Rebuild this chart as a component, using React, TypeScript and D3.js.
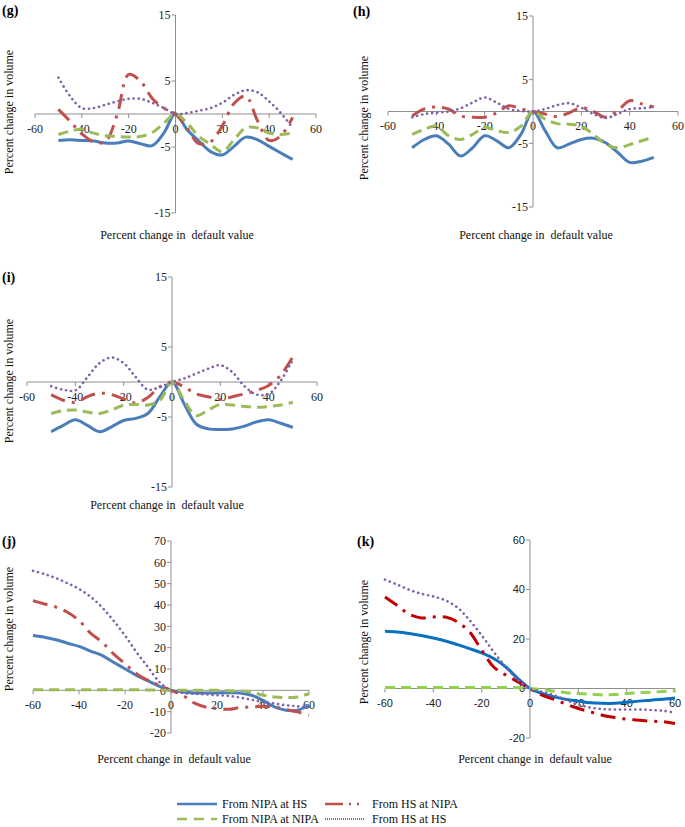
import React from 'react';
import * as d3 from 'd3';

// ---------- data ----------
const xTickValues = [-60, -40, -20, 0, 20, 40, 60];
const yTicksSmall = [-15, -5, 5, 15];
const yTicksJ = [-20, -10, 0, 10, 20, 30, 40, 50, 60, 70];
const yTicksK = [-20, 0, 20, 40, 60];

const xShort = [-50, -45, -40, -35, -30, -25, -20, -15, -10, -5, 0, 5, 10, 15, 20, 25, 30, 35, 40, 45, 50];
const xLong = [-60, -55, -50, -45, -40, -35, -30, -25, -20, -15, -10, -5, 0, 5, 10, 15, 20, 25, 30, 35, 40, 45, 50, 55, 60];

// panel (g)
const gBlue = [-4.0, -3.9, -4.0, -4.1, -4.4, -4.4, -4.1, -4.5, -4.8, -2.9, 0, -2.4, -4.1, -5.7, -6.2, -4.9, -3.5, -3.9, -4.9, -5.9, -6.9];
const gRed = [0.7, -1.1, -3.0, -4.2, -4.2, -0.2, 6.0, 5.0, 2.4, 0.9, 0, -2.2, -4.5, -4.2, -1.8, 1.6, 2.7, -1.0, -4.0, -3.3, -0.5];
const gGreen = [-3.1, -2.6, -2.3, -2.9, -3.3, -3.4, -3.5, -3.4, -2.8, -1.4, 0, -1.4, -3.4, -4.6, -5.7, -3.9, -2.1, -2.1, -2.9, -3.1, -2.9];
const gPurple = [5.5, 2.7, 0.9, 0.9, 1.4, 1.9, 2.3, 2.3, 1.7, 0.9, 0, 0.15, 0.5, 0.9, 1.7, 2.9, 3.6, 3.3, 1.9, 0.15, -2.1];

// panel (h)
const hBlue = [-5.7, -4.4, -3.8, -5.1, -7.0, -5.7, -3.8, -4.6, -5.7, -3.6, 0, -3.0, -5.7, -5.1, -4.4, -4.2, -4.9, -6.4, -8.0, -7.8, -7.2];
const hRed = [-0.7, 0.4, 0.7, 0.4, -0.7, -0.9, -0.9, -0.2, 0.9, 0.4, 0, -0.4, -0.8, -0.2, 0.6, 0.0, -0.9, 0.1, 1.7, 1.2, 0.7];
const hGreen = [-3.6, -2.8, -2.3, -3.8, -4.4, -3.6, -2.5, -3.0, -3.3, -2.3, 0, -1.2, -1.9, -2.0, -2.3, -3.6, -5.1, -5.7, -5.2, -4.6, -4.0];
const hPurple = [-0.9, -0.4, -0.2, 0.0, 0.5, 1.4, 2.2, 1.4, 0.4, 0.1, 0, 0.4, 1.0, 1.3, 0.6, -0.4, -1.0, -0.4, 0.4, 0.5, 0.7];

// panel (i)
const iBlue = [-7.1, -6.2, -5.4, -6.2, -7.1, -6.4, -5.5, -5.2, -4.5, -2.1, 0, -3.1, -6.0, -6.7, -6.8, -6.7, -6.3, -5.7, -5.4, -5.9, -6.5];
const iRed = [-1.8, -2.6, -2.9, -2.1, -1.6, -1.8, -2.4, -3.0, -2.2, -0.7, 0, -0.7, -1.7, -2.1, -2.5, -2.1, -1.7, -1.2, -0.5, 1.0, 3.6];
const iGreen = [-4.5, -4.1, -4.0, -4.3, -4.5, -4.0, -3.3, -3.2, -3.3, -2.6, 0, -2.6, -4.8, -4.0, -3.2, -3.3, -3.5, -3.6, -3.5, -3.3, -2.9];
const iPurple = [-0.6, -1.1, -1.2, 0.7, 2.7, 3.5, 2.7, 0.7, -1.1, -0.7, 0, 0.5, 1.2, 1.9, 2.4, 1.4, -0.6, -1.8, -1.7, 0.2, 3.2];

// panel (j)
const jBlue = [25.7, 24.9, 23.7, 22.1, 20.6, 18.4, 16.4, 13.2, 10.1, 7.0, 4.4, 1.9, 0, -0.8, -1.2, -1.2, -1.2, -1.1, -1.2, -2.3, -4.7, -7.8, -9.3, -9.3, -7.0];
const jRed = [42.0, 40.5, 39.0, 36.6, 32.7, 26.8, 22.6, 17.1, 12.5, 7.8, 4.7, 2.3, 0, -2.3, -5.9, -7.8, -8.6, -8.9, -8.1, -7.8, -7.5, -7.8, -9.0, -10.1, -11.7];
const jGreen = [0.3, 0.3, 0.3, 0.3, 0.3, 0.3, 0.3, 0.3, 0.3, 0.3, 0.2, 0.1, 0, 0, 0, 0, 0, -0.2, -0.4, -0.8, -2.3, -3.1, -3.4, -3.1, -1.6];
const jPurple = [56.0, 54.5, 52.6, 50.2, 47.5, 43.9, 38.9, 32.7, 25.7, 17.9, 10.9, 3.9, 0, -1.2, -1.6, -1.9, -2.3, -2.6, -3.4, -4.4, -5.5, -6.2, -7.0, -7.5, -7.8];

// panel (k)
const kBlue = [23.1, 22.8, 22.2, 21.4, 20.4, 19.2, 17.7, 16.1, 14.4, 12.1, 8.7, 4.0, 0, -2.0, -3.4, -4.4, -5.1, -5.8, -6.0, -6.0, -5.6, -5.1, -4.7, -4.3, -3.8];
const kRed = [37.0, 33.6, 30.0, 28.5, 28.9, 28.9, 26.9, 22.8, 15.5, 8.7, 5.4, 2.7, 0, -2.7, -4.4, -6.3, -8.1, -9.4, -10.8, -11.7, -12.4, -12.8, -13.2, -13.4, -14.1];
const kGreen = [0.4, 0.4, 0.4, 0.4, 0.4, 0.4, 0.4, 0.4, 0.4, 0.4, 0.4, 0.3, 0, -0.4, -1.1, -1.7, -2.0, -2.3, -2.6, -2.4, -2.0, -1.7, -1.5, -1.2, -0.9];
const kPurple = [44.0, 42.0, 39.9, 38.3, 37.2, 35.6, 32.7, 27.6, 21.5, 14.8, 8.7, 3.4, 0, -1.3, -2.7, -4.7, -6.5, -7.7, -8.3, -8.5, -8.5, -8.5, -8.7, -9.0, -9.8];

const seriesNames = ['From NIPA at HS', 'From HS at NIPA', 'From NIPA at NIPA', 'From HS at HS'];

// ---------- styles ----------
const SERIF = '"Liberation Serif", "Times New Roman", serif';
const SANS = '"Liberation Sans", Arial, sans-serif';
const AXIS = '#8f8f8f';

type Style = { stroke: string; width: number; dash?: string; cap?: 'round' | 'butt' };
const styleSet = (blue: string, red: string, green: string, purple: string): Style[] => [
  { stroke: blue, width: 3 },
  { stroke: red, width: 3, dash: '15 7 3 7' },
  { stroke: green, width: 3, dash: '10 6' },
  { stroke: purple, width: 2.6, dash: '0.1 5', cap: 'round' },
];
const stdStyles = styleSet('#4a7ebb', '#c0504d', '#9bbb59', '#7f5fa8');
const kStyles = styleSet('#0a70c0', '#c00000', '#92d050', '#7f5fa8');

type PanelCfg = {
  label: string;
  labelX: number;
  labelY: number;
  xr: [number, number];
  yDomain: [number, number];
  yr: [number, number];
  yTicks: number[];
  xs: number[];
  data: number[][];
  styles: Style[];
  tickFont: string;
  tickSize: number;
  xTitle: [number, number];
  yTitle: [number, number];
};

const panels: PanelCfg[] = [
  {
    label: '(g)', labelX: 2, labelY: 15, xr: [35, 316], yDomain: [-15, 15], yr: [213, 15], yTicks: yTicksSmall,
    xs: xShort, data: [gBlue, gRed, gGreen, gPurple], styles: stdStyles, tickFont: SERIF, tickSize: 12,
    xTitle: [177, 239], yTitle: [9, 112],
  },
  {
    label: '(h)', labelX: 353, labelY: 16, xr: [388, 678], yDomain: [-15, 15], yr: [207, 16], yTicks: yTicksSmall,
    xs: xShort, data: [hBlue, hRed, hGreen, hPurple], styles: stdStyles, tickFont: SERIF, tickSize: 12,
    xTitle: [536, 239], yTitle: [364, 118],
  },
  {
    label: '(i)', labelX: 2, labelY: 282, xr: [27, 317], yDomain: [-15, 15], yr: [487, 277], yTicks: yTicksSmall,
    xs: xShort, data: [iBlue, iRed, iGreen, iPurple], styles: stdStyles, tickFont: SERIF, tickSize: 12,
    xTitle: [167, 509], yTitle: [9, 381],
  },
  {
    label: '(j)', labelX: 2, labelY: 546, xr: [33, 309], yDomain: [-20, 70], yr: [733, 541], yTicks: yTicksJ,
    xs: xLong, data: [jBlue, jRed, jGreen, jPurple], styles: stdStyles, tickFont: SERIF, tickSize: 12,
    xTitle: [174, 763], yTitle: [9, 629],
  },
  {
    label: '(k)', labelX: 357, labelY: 546, xr: [385, 675], yDomain: [-20, 60], yr: [738, 540], yTicks: yTicksK,
    xs: xLong, data: [kBlue, kRed, kGreen, kPurple], styles: kStyles, tickFont: SANS, tickSize: 11,
    xTitle: [535, 763], yTitle: [364, 642],
  },
];

function Panel({ cfg }: { cfg: PanelCfg }) {
  const x = d3.scaleLinear().domain([-60, 60]).range(cfg.xr);
  const y = d3.scaleLinear().domain(cfg.yDomain).range(cfg.yr);
  const line = d3
    .line<[number, number]>()
    .x((d) => x(d[0]))
    .y((d) => y(d[1]))
    .curve(d3.curveCatmullRom.alpha(0.5));
  const ax = x(0);
  const ay = y(0);
  return (
    <g>
      <text x={cfg.labelX} y={cfg.labelY} fontFamily={SERIF} fontWeight="bold" fontSize={14}>
        {cfg.label}
      </text>
      {/* axes */}
      <line x1={x(-60)} x2={x(60)} y1={ay} y2={ay} stroke={AXIS} strokeWidth={1} />
      <line x1={ax} x2={ax} y1={y(cfg.yDomain[1])} y2={y(cfg.yDomain[0])} stroke={AXIS} strokeWidth={1} />
      {cfg.yTicks.map((t) => (
        <g key={'yt' + t}>
          <line x1={ax - 4} x2={ax} y1={y(t)} y2={y(t)} stroke={AXIS} />
          <text
            x={ax - 5}
            y={y(t)}
            dy="0.35em"
            textAnchor="end"
            fontFamily={cfg.tickFont}
            fontSize={cfg.tickSize}
            fill="#222"
          >
            {t}
          </text>
        </g>
      ))}
      {xTickValues.map((t) => (
        <g key={'xt' + t}>
          <line x1={x(t)} x2={x(t)} y1={ay} y2={ay + 4} stroke={AXIS} />
          <text
            x={x(t)}
            y={ay + 14.5}
            dy="0.35em"
            textAnchor="middle"
            fontFamily={cfg.tickFont}
            fontSize={cfg.tickSize}
            fill="#222"
          >
            {t}
          </text>
        </g>
      ))}
      {/* series */}
      {cfg.data.map((vals, si) => {
        const st = cfg.styles[si];
        const pts = cfg.xs.map((xv, i) => [xv, vals[i]] as [number, number]);
        return (
          <path
            key={'s' + si}
            d={line(pts) || ''}
            fill="none"
            stroke={st.stroke}
            strokeWidth={st.width}
            strokeDasharray={st.dash}
            strokeLinecap={st.cap || 'butt'}
            strokeLinejoin="round"
          />
        );
      })}
      {/* titles */}
      <text
        x={cfg.xTitle[0]}
        y={cfg.xTitle[1]}
        textAnchor="middle"
        fontFamily={SERIF}
        fontSize={12}
        fill="#111"
        style={{ whiteSpace: 'pre' }}
      >
        {'Percent change in  default value'}
      </text>
      <text
        transform={`translate(${cfg.yTitle[0]},${cfg.yTitle[1]}) rotate(-90)`}
        textAnchor="middle"
        dy="0.35em"
        fontFamily={SERIF}
        fontSize={12}
        fill="#111"
      >
        Percent change in volume
      </text>
    </g>
  );
}

function Legend() {
  const entries = [
    { x: 177, y: 804, i: 0 },
    { x: 325, y: 804, i: 1 },
    { x: 177, y: 819, i: 2 },
    { x: 325, y: 819, i: 3 },
  ];
  return (
    <g>
      {entries.map((e) => {
        const st = stdStyles[e.i];
        return (
          <g key={'lg' + e.i}>
            <line
              x1={e.x}
              x2={e.x + 40}
              y1={e.y}
              y2={e.y}
              stroke={st.stroke}
              strokeWidth={e.i === 3 ? 2 : 2.5}
              strokeDasharray={e.i === 1 ? '18 6 2 6 2 6' : e.i === 2 ? '10 7' : e.i === 3 ? '1 1' : undefined}
            />
            <text x={e.x + (e.i % 2 === 0 ? 45 : 47)} y={e.y + 4} fontFamily={SERIF} fontSize={12} fill="#111">
              {seriesNames[e.i]}
            </text>
          </g>
        );
      })}
    </g>
  );
}

export default function App() {
  return (
    <svg
      width={685}
      height={827}
      style={{ position: 'absolute', left: 0, top: 0, background: '#fff' }}
      xmlns="http://www.w3.org/2000/svg"
    >
      <rect x={0} y={0} width={685} height={827} fill="#fff" />
      {panels.map((p) => (
        <Panel key={p.label} cfg={p} />
      ))}
      <Legend />
    </svg>
  );
}
